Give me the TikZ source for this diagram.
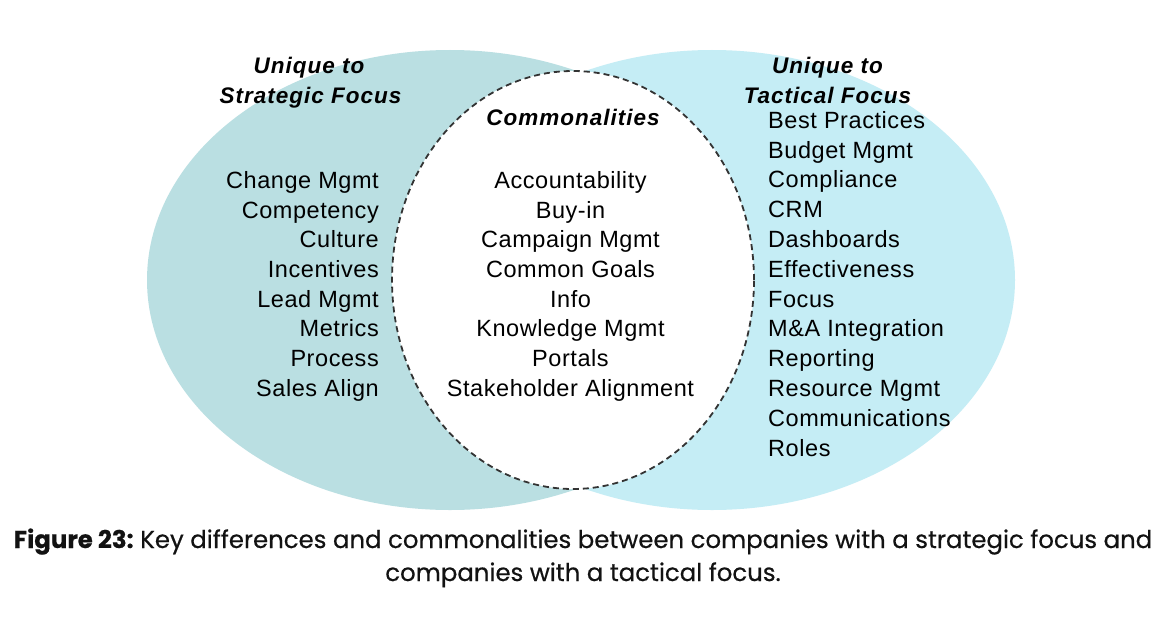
\documentclass[tikz,border=0pt]{standalone}
\usepackage{fontspec}
\setmainfont[LetterSpace=2.4]{Liberation Sans}
\newfontfamily\headfont[LetterSpace=4.4]{Liberation Sans}
\newfontfamily\capfont[FakeBold=0.5]{Poppins}
\usetikzlibrary{shapes.geometric}
\definecolor{stratfill}{HTML}{BADFE2}
\definecolor{tactfill}{HTML}{C5EDF5}
\definecolor{dashgray}{HTML}{333333}

\begin{document}
\begin{tikzpicture}[x=1pt,y=-1pt,
  region/.style={ellipse, inner sep=0pt, draw=none},
  heading/.style={font=\headfont\fontsize{22.5}{27}\selectfont\bfseries\itshape, anchor=base, inner sep=0pt},
  item/.style={font=\fontsize{23.5}{29.7}\selectfont, inner sep=0pt},
  caption/.style={font=\capfont\fontsize{24.4}{30}\selectfont, anchor=base, inner sep=0pt, text=black!93}
]
\useasboundingbox (0,0) rectangle (1166,618);
\fill[white] (0,0) rectangle (1166,618);

% the two focus regions and the shared area
\node[region, fill=stratfill, minimum width=606pt, minimum height=460pt] (strat) at (450,280) {};
\node[region, fill=tactfill, minimum width=606pt, minimum height=460pt] (tact) at (712,280) {};
\node[region, fill=white, draw=dashgray, dash pattern=on 6pt off 4pt, line width=1.8pt,
      minimum width=362pt, minimum height=418pt] (common) at (573,280) {};

% headings
\node[heading] (stratA) at (309,73.5) {Unique to};
\node[heading] (stratB) at (310.5,103) {Strategic Focus};
\node[heading] (tactA) at (827.5,73.5) {Unique to};
\node[heading] (tactB) at (827.5,103) {Tactical Focus};
\node[heading] (commonT) at (573,125) {Commonalities};

% strategic-only items
\foreach \t [count=\i] in {Change Mgmt, Competency, Culture, Incentives, Lead Mgmt, Metrics, Process, Sales Align}
  \node[item, anchor=base east] (s\i) at (379, {188.5+(\i-1)*29.65}) {\t};

% shared items
\foreach \t [count=\i] in {Accountability, Buy-in, Campaign Mgmt, Common Goals, Info, Knowledge Mgmt, Portals, Stakeholder Alignment}
  \node[item, anchor=base] (c\i) at (570.5, {188.5+(\i-1)*29.65}) {\t};

% tactical-only items
\foreach \t [count=\i] in {Best Practices, Budget Mgmt, Compliance, CRM, Dashboards, Effectiveness, Focus, {M\&A Integration}, Reporting, Resource Mgmt, Communications, Roles}
  \node[item, anchor=base west] (t\i) at (768, {128.3+(\i-1)*29.8}) {\t};

% caption
\node[caption] (cap1) at (583,548) {\textbf{Figure 23:}\hspace{-2pt} Key differences and commonalities between companies with a strategic focus and};
\node[caption] (cap2) at (583,581) {companies with a tactical focus.};
\end{tikzpicture}
\end{document}
